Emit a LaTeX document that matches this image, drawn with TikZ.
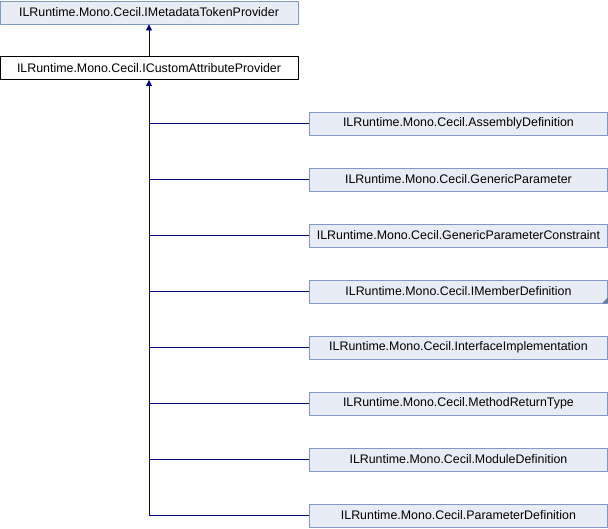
\documentclass[tikz,border=0pt]{standalone}
\usepackage{fontspec}
\setmainfont{Liberation Sans}
\usetikzlibrary{arrows.meta,positioning}
\definecolor{boxfill}{HTML}{E8ECF5}
\definecolor{boxdraw}{HTML}{8098C8}
\definecolor{edgecol}{HTML}{000080}
\begin{document}
\begin{tikzpicture}[x=1pt,y=-1pt,line join = round,font=\fontsize{12.4}{14}\selectfont,
		cls/.style={draw=boxdraw,fill=boxfill,line width=0.9pt,minimum width=298pt,minimum height=23pt,inner sep=0pt},
		cur/.style={draw=black,fill=white,line width=0.9pt,minimum width=298pt,minimum height=23pt,inner sep=0pt},
		edge/.style={draw=edgecol,line width=0.9pt},
		>={Triangle[length=6pt,width=6pt]}]
	\def\xl{309} \def\dy{56} %x_lớp con, khoảng cách dọc
	\useasboundingbox (0,0) rectangle (608,528);
	\node[cls] (meta) at (149,12.5) {ILRuntime.Mono.Cecil.IMetadataTokenProvider};
	\node[cur] (attr) at (149,68) {ILRuntime.Mono.Cecil.ICustomAttributeProvider};
	\draw[edge,->] (attr.north) -- (meta.south);
	% Các lớp con
	\foreach \i/\name in {1/AssemblyDefinition,2/GenericParameter,3/GenericParameterConstraint,4/IMemberDefinition,5/InterfaceImplementation,6/MethodReturnType,7/ModuleDefinition,8/ParameterDefinition}
		\node[cls,anchor=west] (c\i) at (\xl,{123.5+\dy*(\i-1)}) {ILRuntime.Mono.Cecil.\name};
	\fill[boxdraw!80!black] (c4.south east) -- ++(-6,0) -- ++(6,-6) -- cycle;
	\draw[edge,->] (c8.west) -| (attr.south);
	\foreach \i in {1,...,7}
		\draw[edge] (c\i.west) -- (c\i.west -| attr.south);
\end{tikzpicture}
\end{document}
